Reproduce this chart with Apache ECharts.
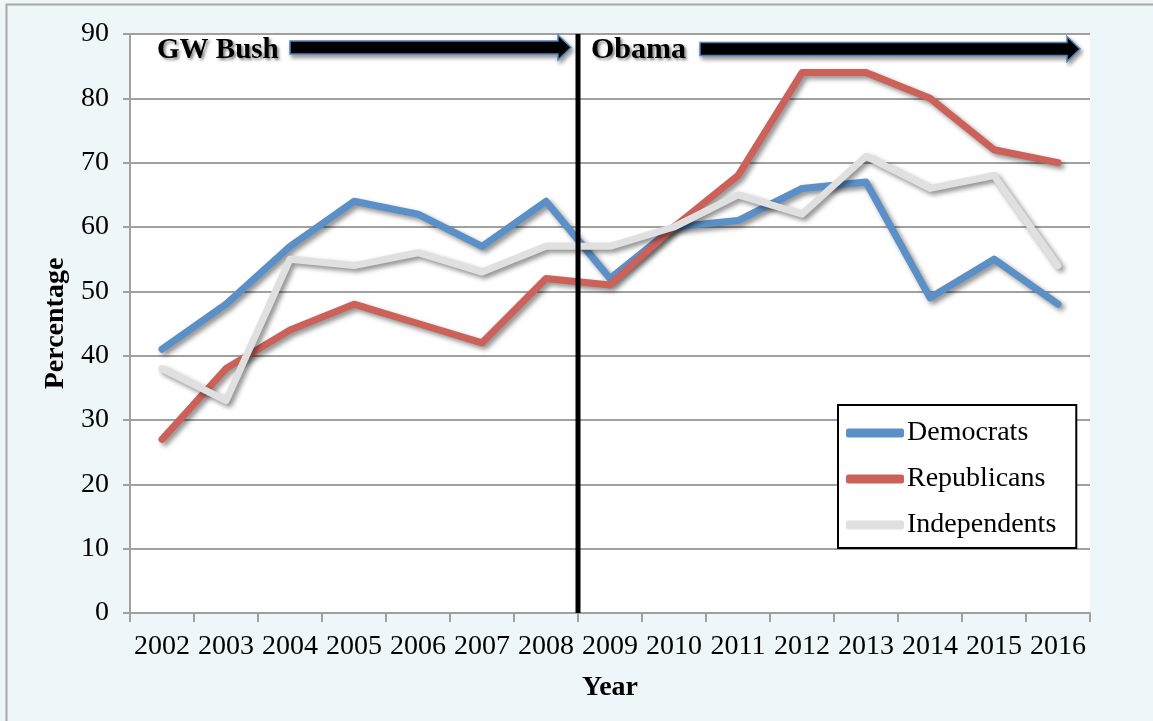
<!DOCTYPE html>
<html>
<head>
<meta charset="utf-8">
<script src="https://cdn.jsdelivr.net/npm/echarts@6/dist/echarts.min.js"></script>
<style>
html,body{margin:0;padding:0;background:#EEF6F9;}
#chart{width:1153px;height:721px;}
</style>
</head>
<body>
<div id="chart"></div>
<script>
var years = ['2002','2003','2004','2005','2006','2007','2008','2009','2010','2011','2012','2013','2014','2015','2016'];
var democrats   = [41, 48, 57, 64, 62, 57, 64, 52, 60, 61, 66, 67, 49, 55, 48];
var republicans = [27, 38, 44, 48, 45, 42, 52, 51, 60, 68, 84, 84, 80, 72, 70];
var independents= [38, 33, 55, 54, 56, 53, 57, 57, 60, 65, 62, 71, 66, 68, 54];
var seriesNames = ['Democrats', 'Republicans', 'Independents'];
var dividerPos = 7;   // boundary between 2008 and 2009 (category units)
var yTicks = {min: 0, max: 90, interval: 10};

var FONT = '"Liberation Serif", "DejaVu Serif", serif';
var colors = ['#5A8FC8', '#CB6159', '#E0E0E0'];

var chart = echarts.init(document.getElementById('chart'), null, {renderer: 'canvas'});

function lineSeries(name, data, color) {
  return {
    name: name, type: 'line', data: data, symbol: 'none', smooth: false,
    itemStyle: {color: color},
    lineStyle: {color: color, width: 7, cap: 'round', join: 'round',
      shadowColor: 'rgba(0,0,0,0.45)', shadowBlur: 5, shadowOffsetX: 3, shadowOffsetY: 3},
    z: 3
  };
}

function arrowPts(x0, x1, yc) {
  var headBase = x1 - 13;
  return [[x0, yc - 6.5], [headBase, yc - 6.5], [headBase, yc - 12.5], [x1, yc],
          [headBase, yc + 12.5], [headBase, yc + 6.5], [x0, yc + 6.5]];
}

var option = {
  backgroundColor: '#EEF6F9',
  animation: false,
  grid: {left: 130, right: 63, top: 34, bottom: 108, show: true, backgroundColor: '#FFFFFF', borderWidth: 0},
  legend: {
    orient: 'vertical', left: 838, top: 405,
    backgroundColor: '#FFFFFF', borderColor: '#000000', borderWidth: 2, borderRadius: 0,
    padding: [14, 20, 9, 8], itemGap: 18,
    itemWidth: 58, itemHeight: 9, icon: 'roundRect',
    data: seriesNames,
    textStyle: {fontFamily: FONT, fontSize: 28, lineHeight: 26, color: '#000', padding: [0, 0, 0, -2]}
  },
  xAxis: [{
    type: 'category', data: years, boundaryGap: true,
    name: 'Year', nameLocation: 'middle', nameGap: 61,
    nameTextStyle: {fontFamily: FONT, fontSize: 28, fontWeight: 'bold', color: '#000'},
    axisLine: {show: true, lineStyle: {color: '#A0A0A0', width: 2}},
    axisTick: {show: true, interval: 0, length: 9, lineStyle: {color: '#A0A0A0', width: 2}},
    axisLabel: {interval: 0, fontFamily: FONT, fontSize: 28, color: '#000', margin: 20},
    splitLine: {show: false}
  }, {
    type: 'value', min: 0, max: years.length, show: false
  }],
  yAxis: {
    type: 'value', min: yTicks.min, max: yTicks.max, interval: yTicks.interval,
    name: 'Percentage', nameLocation: 'middle', nameGap: 56, nameRotate: 90,
    nameTextStyle: {fontFamily: FONT, fontSize: 28, fontWeight: 'bold', color: '#000'},
    axisLine: {show: true, lineStyle: {color: '#A0A0A0', width: 2}},
    axisTick: {show: true, length: 7, lineStyle: {color: '#A0A0A0', width: 2}},
    axisLabel: {fontFamily: FONT, fontSize: 28, color: '#000', margin: 21},
    splitLine: {show: true, lineStyle: {color: '#A0A0A0', width: 2}}
  },
  series: [
    lineSeries(seriesNames[0], democrats, colors[0]),
    lineSeries(seriesNames[1], republicans, colors[1]),
    lineSeries(seriesNames[2], independents, colors[2]),
    {
      name: 'divider', type: 'line', xAxisIndex: 1, symbol: 'none', silent: true,
      data: [[dividerPos, yTicks.min], [dividerPos, yTicks.max]],
      lineStyle: {color: '#000', width: 5}, z: 4
    }
  ],
  graphic: [
    {type: 'rect', shape: {x: 6.5, y: 4.5, width: 1200, height: 800}, silent: true,
     style: {fill: 'none', stroke: '#A8A8A8', lineWidth: 2}, z: -1},
    {type: 'polygon', shape: {points: arrowPts(290, 571, 47.5)}, z: 10,
     style: {fill: '#000', stroke: '#4F81BD', lineWidth: 1.5,
             shadowColor: 'rgba(0,0,0,0.4)', shadowBlur: 4, shadowOffsetX: 2, shadowOffsetY: 3}},
    {type: 'polygon', shape: {points: arrowPts(700, 1080, 49)}, z: 10,
     style: {fill: '#000', stroke: '#4F81BD', lineWidth: 1.5,
             shadowColor: 'rgba(0,0,0,0.4)', shadowBlur: 4, shadowOffsetX: 2, shadowOffsetY: 3}},
    {type: 'text', left: 157, top: 36, z: 10,
     style: {text: 'GW Bush', font: 'bold 29px ' + FONT, fill: '#000',
             textShadowColor: 'rgba(0,0,0,0.5)', textShadowBlur: 3, textShadowOffsetX: 2, textShadowOffsetY: 2}},
    {type: 'text', left: 591, top: 35, z: 10,
     style: {text: 'Obama', font: 'bold 30px ' + FONT, fill: '#000',
             textShadowColor: 'rgba(0,0,0,0.5)', textShadowBlur: 3, textShadowOffsetX: 2, textShadowOffsetY: 2}}
  ]
};
chart.setOption(option);
</script>
</body>
</html>
